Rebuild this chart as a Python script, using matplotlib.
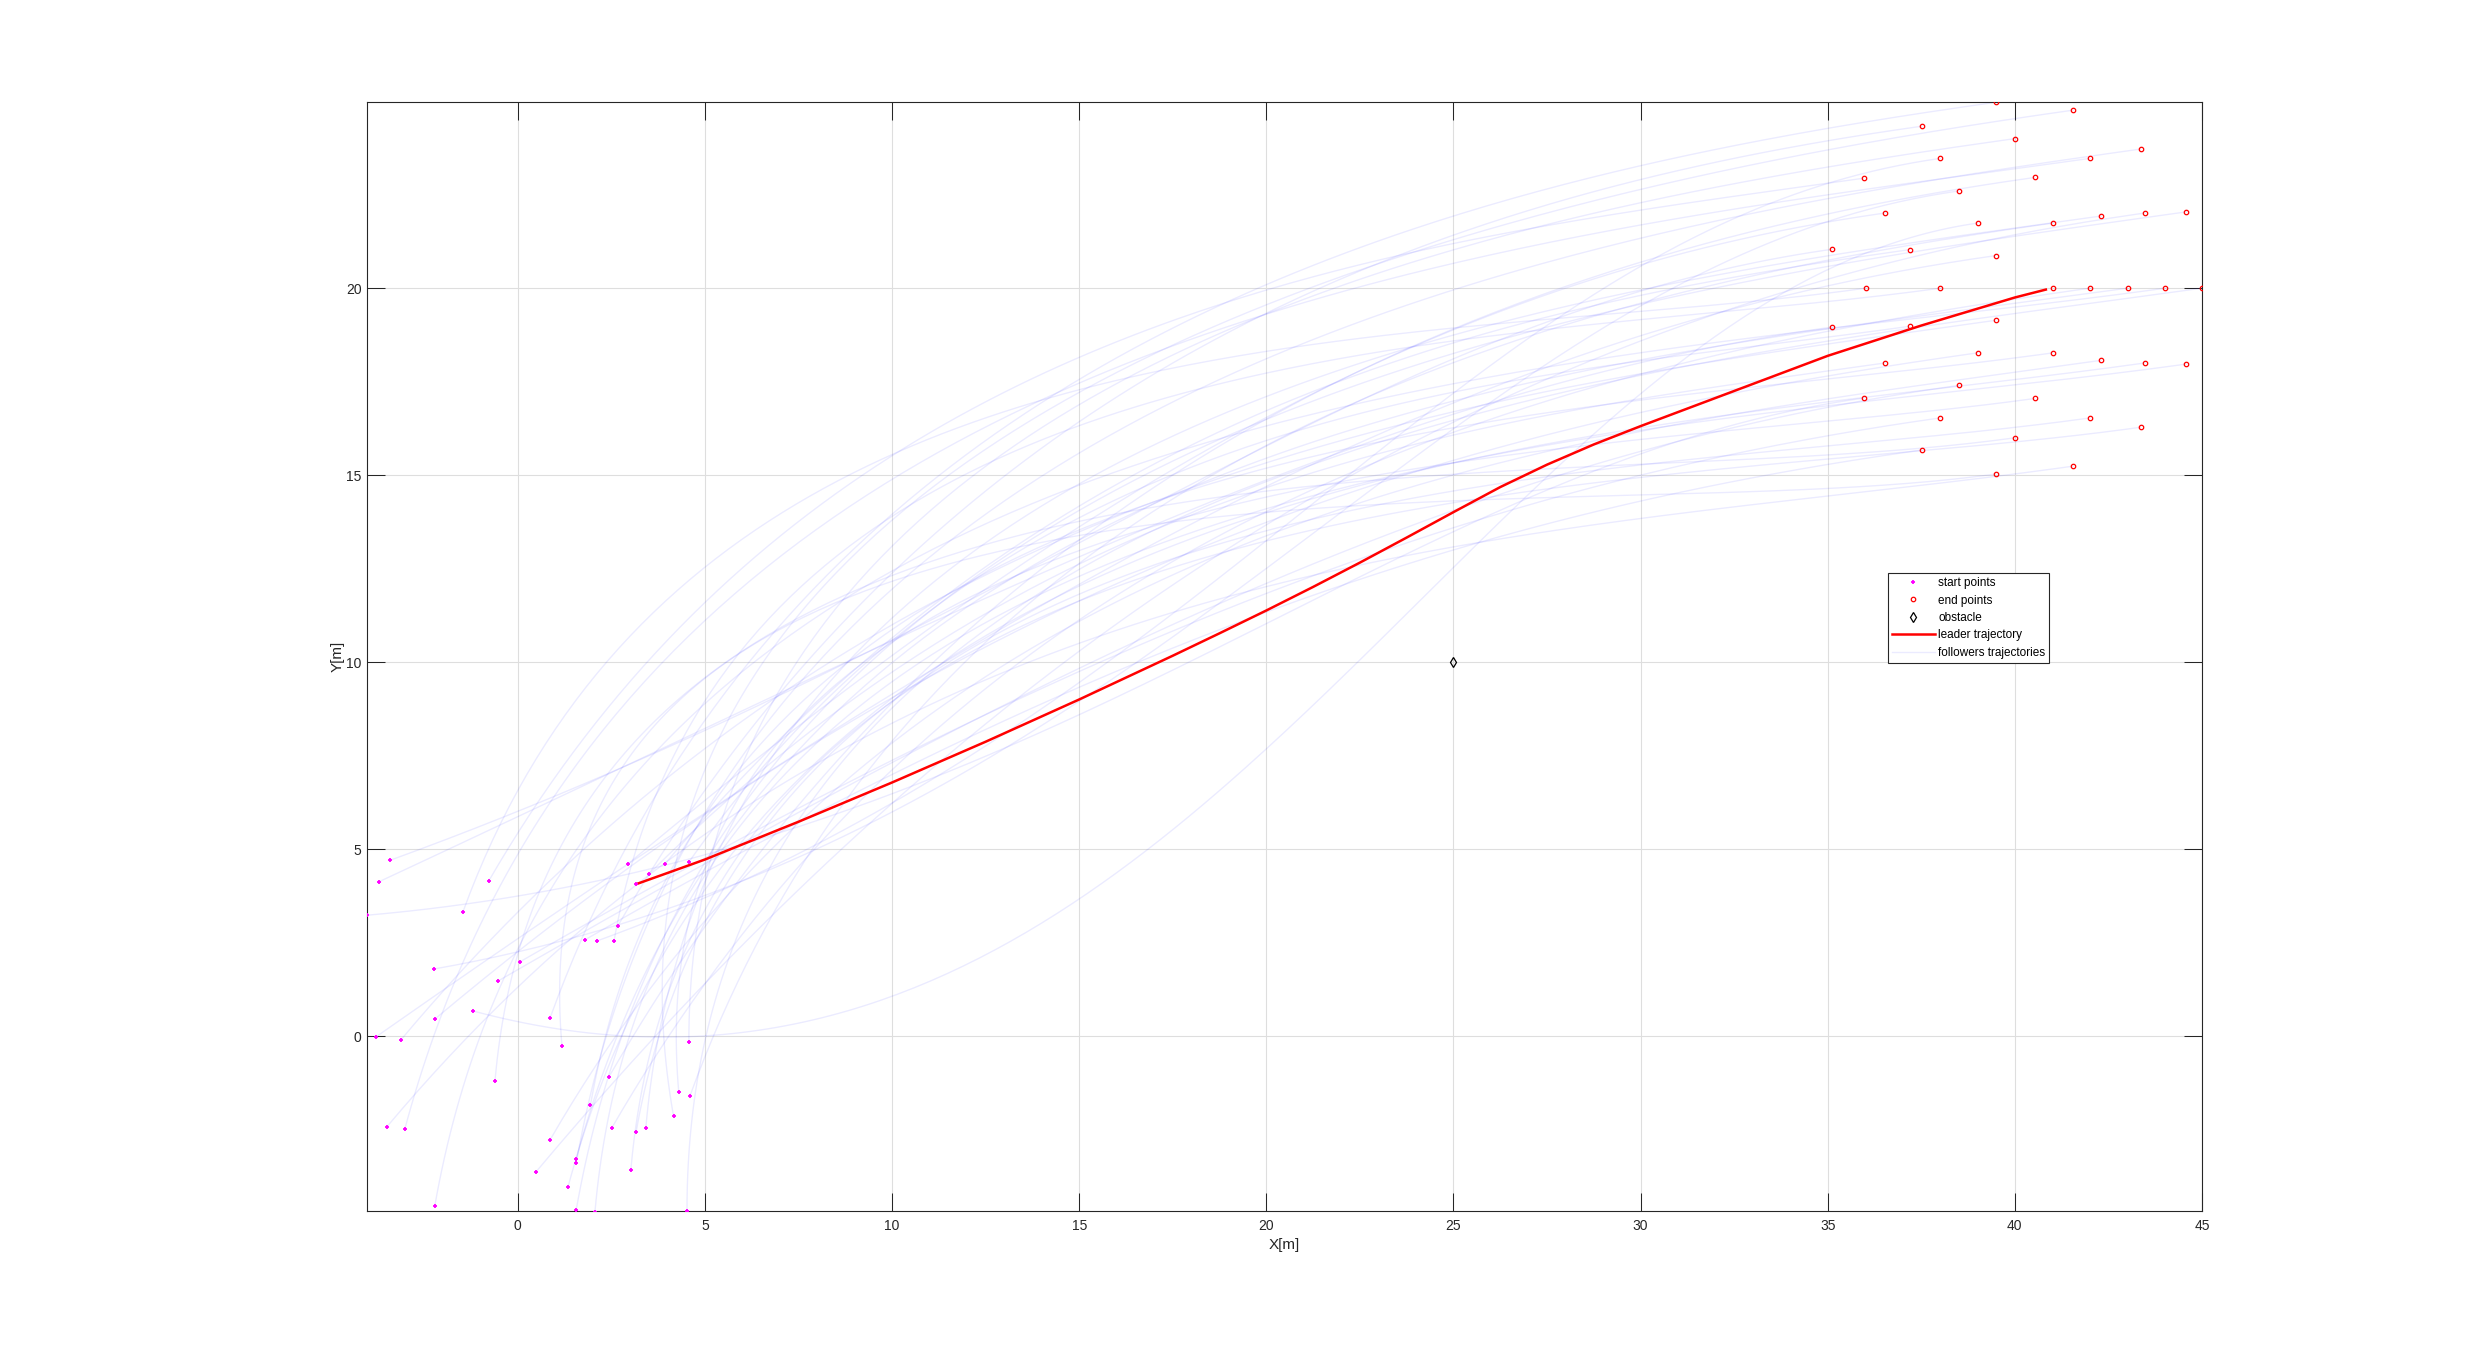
import numpy as np
import matplotlib
matplotlib.use("Agg")
import matplotlib.pyplot as plt
from matplotlib.lines import Line2D

plt.rcParams['font.family'] = ['Liberation Sans', 'DejaVu Sans']

# ---------------- data ----------------
leader_x = [3.16, 4.0, 5.0, 7.5, 10.0, 12.5, 15.0, 17.5, 18.75, 20.0, 21.25, 22.5,
            23.75, 25.0, 26.25, 27.5, 28.75, 30.0, 32.5, 35.0, 37.5, 40.0, 40.86]
leader_y = [4.06, 4.36, 4.72, 5.73, 6.78, 7.87, 9.00, 10.17, 10.77, 11.38, 12.01, 12.66,
            13.33, 14.01, 14.68, 15.28, 15.82, 16.31, 17.25, 18.19, 19.00, 19.75, 19.97]
leader_start = (3.16, 4.06)
leader_goal = (41.02, 20.0)

# follower start points
start_x = [-3.41, -3.72, -0.78, -4.03, -1.47, 2.94, 3.50, 3.93, 4.57, 2.67, 1.79,
           2.11, 2.57, 0.05, -2.25, -0.53, -1.20, -2.22, 0.86, -3.80, -3.13, 1.18,
           4.57, -0.61, 2.43, 4.30, 4.60, 1.94, 4.16, -3.50, -3.02, 2.51, 3.16,
           3.42, 0.86, 1.56, 1.56, 3.02, 0.48, 1.34, -2.22, 1.56, 2.06, 4.52]
start_y = [4.70, 4.12, 4.14, 3.23, 3.31, 4.60, 4.33, 4.60, 4.65, 2.94, 2.57,
           2.54, 2.54, 1.98, 1.79, 1.47, 0.67, 0.45, 0.48, -0.03, -0.11, -0.27,
           -0.16, -1.20, -1.10, -1.50, -1.60, -1.85, -2.14, -2.43, -2.49, -2.46, -2.57,
           -2.46, -2.78, -3.29, -3.40, -3.58, -3.64, -4.04, -4.55, -4.65, -4.71, -4.68]
# initial headings of the followers (deg)
start_heading = [20, 25, 60, 5, 70, 40, 45, 50, 55, 60, 30,
                 20, 80, 30, 10, 30, -15, 40, 70, 35, 50, 95,
                 90, 85, 60, 95, 70, 80, 100, 50, 75, 60, 80,
                 85, 60, 75, 80, 85, 50, 75, 80, 80, 85, 90]

# follower end points (formation)
end_x = [35.12, 35.12, 35.96, 35.96, 36.02, 36.54, 36.54, 37.19, 37.19, 37.51, 37.51,
         38.01, 38.01, 38.01, 38.51, 38.51, 39.01, 39.01, 39.49, 39.49, 39.49, 39.49,
         40.01, 40.01, 40.53, 40.53, 41.02, 41.02, 41.56, 41.56, 42.01, 42.01, 42.01,
         42.31, 42.31, 43.01, 43.36, 43.36, 43.48, 43.48, 44.02, 44.58, 44.58, 45.0]
end_y = [21.04, 18.96, 22.94, 17.06, 20.0, 22.01, 18.00, 21.03, 18.98, 24.33, 15.67,
         23.47, 20.0, 16.53, 22.60, 17.40, 21.74, 18.27, 24.97, 20.87, 19.14, 15.03,
         24.00, 16.00, 22.96, 17.05, 21.74, 18.27, 24.76, 15.24, 23.47, 20.0, 16.53,
         21.93, 18.07, 20.0, 23.72, 16.28, 22.01, 18.00, 20.0, 22.04, 17.97, 20.0]

obstacle_x = [25.0]
obstacle_y = [10.0]

xticks = [0, 5, 10, 15, 20, 25, 30, 35, 40, 45]
yticks = [0, 5, 10, 15, 20]

# ---------------- figure ----------------
W, H = 2482, 1362
fig = plt.figure(figsize=(W / 100, H / 100), dpi=100)
ax_l, ax_r, ax_t, ax_b = 367, 2202, 102.3, 1211
ax = fig.add_axes([ax_l / W, 1 - ax_b / H, (ax_r - ax_l) / W, (ax_b - ax_t) / H])

# follower trajectories (Hermite curves from start to formation slot)
t = np.linspace(0, 1, 200)
h00 = 2 * t**3 - 3 * t**2 + 1
h10 = t**3 - 2 * t**2 + t
h01 = -2 * t**3 + 3 * t**2
h11 = t**3 - t**2
end_heading = np.deg2rad(8)
for sx, sy, hd, ex, ey in zip(start_x, start_y, start_heading, end_x, end_y):
    D = np.hypot(ex - sx, ey - sy)
    a = np.deg2rad(hd)
    T0 = 1.3 * D * np.array([np.cos(a), np.sin(a)])
    T1 = 0.9 * D * np.array([np.cos(end_heading), np.sin(end_heading)])
    px = h00 * sx + h10 * T0[0] + h01 * ex + h11 * T1[0]
    py = h00 * sy + h10 * T0[1] + h01 * ey + h11 * T1[1]
    ax.plot(px, py, color=(0, 0, 1), alpha=0.08, lw=1.0, zorder=2)

ax.plot(leader_x, leader_y, color='red', lw=1.8, zorder=4, solid_capstyle='butt',
        solid_joinstyle='round')

sx_all = start_x + [leader_start[0]]
sy_all = start_y + [leader_start[1]]
ex_all = end_x + [leader_goal[0]]
ey_all = end_y + [leader_goal[1]]
ax.plot(sx_all, sy_all, ls='none', marker='+', color='magenta', ms=3.5, mew=1.3, zorder=5)
ax.plot(ex_all, ey_all, ls='none', marker='o', mfc='none', mec='red', ms=3.2, mew=0.9, zorder=5)
ax.plot(obstacle_x, obstacle_y, ls='none', marker='d', mfc='none', mec='black', ms=5.5, mew=0.9, zorder=5)

ax.set_xlim(-4.03, 45.0)
ax.set_ylim(-4.68, 24.97)
ax.set_xticks(xticks)
ax.set_yticks(yticks)
axc = '#262626'
ax.tick_params(direction='in', length=13, width=0.75, colors=axc, labelsize=10,
               top=True, right=True, labelcolor=axc)
ax.tick_params(axis='x', pad=6)
ax.tick_params(axis='y', pad=4)
for s in ax.spines.values():
    s.set_color(axc)
    s.set_linewidth(0.8)
ax.grid(True, color='#dedede', lw=0.8)
ax.set_axisbelow(True)
ax.set_xlabel('X[m]', fontsize=11, color=axc, labelpad=3)
ax.set_ylabel('Y[m]', fontsize=11, color=axc, labelpad=1)

handles = [
    Line2D([], [], ls='none', marker='+', color='magenta', ms=3.5, mew=1.3),
    Line2D([], [], ls='none', marker='o', mfc='none', mec='red', ms=3.2, mew=0.9),
    Line2D([], [], ls='none', marker='d', mfc='none', mec='black', ms=5.5, mew=0.9),
    Line2D([], [], color='red', lw=1.8),
    Line2D([], [], color=(0, 0, 1), alpha=0.08, lw=1.0),
]
labels = ['start points', 'end points', 'obstacle', 'leader trajectory', 'followers trajectories']
leg = fig.legend(handles, labels, loc='upper left',
                 bbox_to_anchor=(1888 / W, 1 - 573 / H), borderaxespad=0,
                 fontsize=8.5, frameon=True, fancybox=False, framealpha=1,
                 edgecolor=axc, handlelength=3.6, handletextpad=0.3,
                 labelspacing=0.46, borderpad=0.35)
leg.get_frame().set_linewidth(0.8)

fig.savefig('out.png', dpi=100)
